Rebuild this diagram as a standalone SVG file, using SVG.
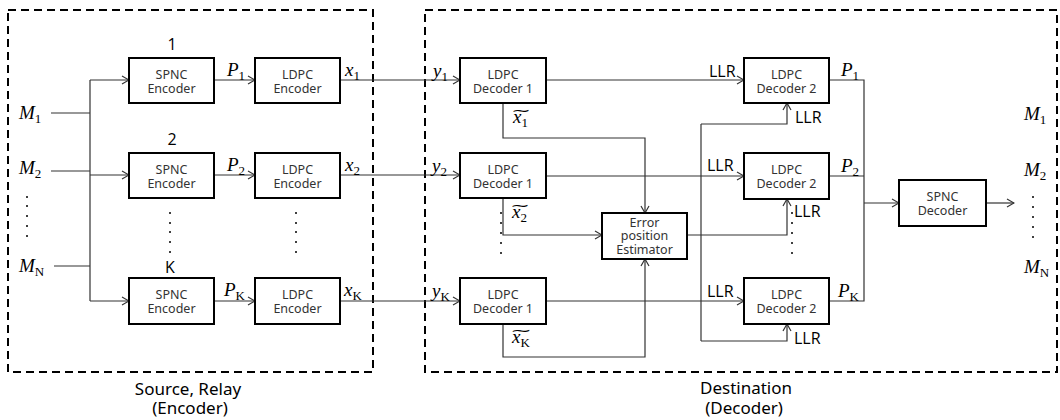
<svg xmlns="http://www.w3.org/2000/svg" width="1060" height="420" viewBox="0 0 1060 420">
<style>
.box{fill:#fff;stroke:#000;stroke-width:2}
.frame{fill:none;stroke:#000;stroke-width:2;stroke-dasharray:8 5}
.bt{font-family:"Noto Sans","Open Sans",sans-serif;font-size:12.5px;fill:#333;text-anchor:middle}
.lb{font-family:"Open Sans","Noto Sans",sans-serif;font-size:16px;fill:#000}
.cap{font-family:"Noto Sans","Open Sans",sans-serif;font-size:17px;fill:#000;text-anchor:middle}
.m{font-family:"Liberation Serif","DejaVu Serif",serif;font-size:19px;font-style:italic;fill:#000}
.sub{font-size:13px;font-style:normal}
.tl{font-family:"DejaVu Sans",sans-serif;font-size:13px;font-style:normal}
.c{fill:none;stroke:#333;stroke-width:1.2}
.a{marker-end:url(#ah)}
.dot{fill:#000}
</style>
<defs>
<marker id="ah" markerWidth="9" markerHeight="10" refX="8" refY="5" orient="auto" markerUnits="userSpaceOnUse">
<path d="M1,1 L8,5 L1,9" fill="none" stroke="#333" stroke-width="1.2"/>
</marker>
</defs>

<g id="frames">
<rect class="frame" x="8" y="10" width="365" height="362"/>
<rect class="frame" x="425" y="10" width="632" height="362"/>
<text class="cap" x="188" y="395">Source, Relay</text>
<text class="cap" x="190" y="414">(Encoder)</text>
<text class="cap" x="746" y="394">Destination</text>
<text class="cap" x="744" y="414">(Decoder)</text>
</g>

<g id="connectors">
<path class="c" d="M51,113 H90 M51,171 H90 M54,266 H90 M90,80 V301"/>
<path class="c a" d="M90,80 H129"/>
<path class="c a" d="M90,175 H129"/>
<path class="c a" d="M90,301 H129"/>
<path class="c a" d="M214,80 H255"/>
<path class="c a" d="M214,175 H255"/>
<path class="c a" d="M214,301 H255"/>
<path class="c a" d="M340,80 H460"/>
<path class="c a" d="M340,175 H460"/>
<path class="c a" d="M340,301 H460"/>
<path class="c a" d="M546,80 H744"/>
<path class="c a" d="M546,176 H744"/>
<path class="c a" d="M546,301 H744"/>
<path class="c a" d="M503,103 V138 H645 V213"/>
<path class="c a" d="M503,198 V235 H602"/>
<path class="c a" d="M503,324 V357 H645 V259"/>
<path class="c a" d="M687,235 H787 V199"/>
<path class="c" d="M701,124 V341"/>
<path class="c a" d="M701,124 H787 V103"/>
<path class="c a" d="M701,341 H787 V324"/>
<path class="c" d="M829,80 H864 V301 H829 M829,176 H864"/>
<path class="c a" d="M864,203 H899"/>
<path class="c a" d="M986,203 H1014"/>
</g>

<g id="spnc-enc-1"><rect class="box" x="129" y="58" width="85" height="45"/><text class="bt" x="171.5" y="79">SPNC</text><text class="bt" x="171.5" y="93">Encoder</text></g>
<g id="spnc-enc-2"><rect class="box" x="129" y="153" width="85" height="45"/><text class="bt" x="171.5" y="174">SPNC</text><text class="bt" x="171.5" y="188">Encoder</text></g>
<g id="spnc-enc-k"><rect class="box" x="129" y="278" width="85" height="46"/><text class="bt" x="171.5" y="299">SPNC</text><text class="bt" x="171.5" y="313">Encoder</text></g>

<g id="ldpc-enc-1"><rect class="box" x="255" y="58" width="85" height="45"/><text class="bt" x="297.5" y="79">LDPC</text><text class="bt" x="297.5" y="93">Encoder</text></g>
<g id="ldpc-enc-2"><rect class="box" x="255" y="153" width="85" height="45"/><text class="bt" x="297.5" y="174">LDPC</text><text class="bt" x="297.5" y="188">Encoder</text></g>
<g id="ldpc-enc-k"><rect class="box" x="255" y="278" width="85" height="46"/><text class="bt" x="297.5" y="299">LDPC</text><text class="bt" x="297.5" y="313">Encoder</text></g>

<g id="ldpc-dec1-1"><rect class="box" x="460" y="58" width="86" height="45"/><text class="bt" x="503" y="79">LDPC</text><text class="bt" x="503" y="93">Decoder 1</text></g>
<g id="ldpc-dec1-2"><rect class="box" x="460" y="153" width="86" height="45"/><text class="bt" x="503" y="174">LDPC</text><text class="bt" x="503" y="188">Decoder 1</text></g>
<g id="ldpc-dec1-k"><rect class="box" x="460" y="278" width="86" height="46"/><text class="bt" x="503" y="299">LDPC</text><text class="bt" x="503" y="313">Decoder 1</text></g>

<g id="estimator"><rect class="box" x="602" y="213" width="85" height="46"/><text class="bt" x="644.5" y="227">Error</text><text class="bt" x="644.5" y="240">position</text><text class="bt" x="644.5" y="254">Estimator</text></g>

<g id="ldpc-dec2-1"><rect class="box" x="744" y="58" width="85" height="45"/><text class="bt" x="786.5" y="79">LDPC</text><text class="bt" x="786.5" y="93">Decoder 2</text></g>
<g id="ldpc-dec2-2"><rect class="box" x="744" y="153" width="85" height="46"/><text class="bt" x="786.5" y="174">LDPC</text><text class="bt" x="786.5" y="188">Decoder 2</text></g>
<g id="ldpc-dec2-k"><rect class="box" x="744" y="278" width="85" height="46"/><text class="bt" x="786.5" y="299">LDPC</text><text class="bt" x="786.5" y="313">Decoder 2</text></g>

<g id="spnc-dec"><rect class="box" x="899" y="180" width="87" height="46"/><text class="bt" x="942.5" y="201">SPNC</text><text class="bt" x="942.5" y="215">Decoder</text></g>

<g id="labels">
<text class="lb" x="172" y="50" text-anchor="middle">1</text>
<text class="lb" x="172" y="145" text-anchor="middle">2</text>
<text class="lb" x="170" y="273" text-anchor="middle">K</text>

<text class="m" x="19" y="119">M<tspan class="sub" dy="4">1</tspan></text>
<text class="m" x="19" y="174">M<tspan class="sub" dy="4">2</tspan></text>
<text class="m" x="19" y="272">M<tspan class="sub" dy="4">N</tspan></text>

<text class="m" x="227" y="76">P<tspan class="sub" dy="4">1</tspan></text>
<text class="m" x="227" y="171">P<tspan class="sub" dy="4">2</tspan></text>
<text class="m" x="224" y="296">P<tspan class="sub" dy="4">K</tspan></text>

<text class="m" x="345" y="76">x<tspan class="sub" dy="4">1</tspan></text>
<text class="m" x="345" y="171">x<tspan class="sub" dy="4">2</tspan></text>
<text class="m" x="344" y="296">x<tspan class="sub" dy="4">K</tspan></text>

<text class="m" x="433" y="77">y<tspan class="sub" dy="4">1</tspan></text>
<text class="m" x="432" y="172">y<tspan class="sub" dy="4">2</tspan></text>
<text class="m" x="432" y="297">y<tspan class="sub" dy="4">K</tspan></text>

<text class="m" x="513" y="123">x<tspan class="sub" dy="4">1</tspan><tspan class="tl" x="511" y="115" textLength="20" lengthAdjust="spacingAndGlyphs">∼</tspan></text>
<text class="m" x="512" y="218">x<tspan class="sub" dy="4">2</tspan><tspan class="tl" x="510" y="210" textLength="20" lengthAdjust="spacingAndGlyphs">∼</tspan></text>
<text class="m" x="512" y="343">x<tspan class="sub" dy="4">K</tspan><tspan class="tl" x="510" y="335" textLength="22" lengthAdjust="spacingAndGlyphs">∼</tspan></text>

<text class="lb" x="709" y="77">LLR</text>
<text class="lb" x="707" y="171">LLR</text>
<text class="lb" x="707" y="297">LLR</text>
<text class="lb" x="795" y="123">LLR</text>
<text class="lb" x="794" y="217">LLR</text>
<text class="lb" x="794" y="344">LLR</text>

<text class="m" x="841" y="76">P<tspan class="sub" dy="4">1</tspan></text>
<text class="m" x="841" y="172">P<tspan class="sub" dy="4">2</tspan></text>
<text class="m" x="838" y="297">P<tspan class="sub" dy="4">K</tspan></text>

<text class="m" x="1024" y="120">M<tspan class="sub" dy="4">1</tspan></text>
<text class="m" x="1024" y="176">M<tspan class="sub" dy="4">2</tspan></text>
<text class="m" x="1024" y="273">M<tspan class="sub" dy="4">N</tspan></text>
</g>

<g id="dots">
<circle class="dot" cx="27" cy="197" r="1"/><circle class="dot" cx="27" cy="206" r="1"/><circle class="dot" cx="27" cy="216" r="1"/><circle class="dot" cx="27" cy="226" r="1"/><circle class="dot" cx="27" cy="236" r="1"/>
<circle class="dot" cx="170" cy="213" r="1"/><circle class="dot" cx="170" cy="223" r="1"/><circle class="dot" cx="170" cy="232" r="1"/><circle class="dot" cx="170" cy="242" r="1"/><circle class="dot" cx="170" cy="252" r="1"/>
<circle class="dot" cx="296" cy="213" r="1"/><circle class="dot" cx="296" cy="223" r="1"/><circle class="dot" cx="296" cy="232" r="1"/><circle class="dot" cx="296" cy="242" r="1"/><circle class="dot" cx="296" cy="252" r="1"/>
<circle class="dot" cx="501" cy="213" r="1"/><circle class="dot" cx="501" cy="223" r="1"/><circle class="dot" cx="501" cy="233" r="1"/><circle class="dot" cx="501" cy="243" r="1"/><circle class="dot" cx="501" cy="253" r="1"/>
<circle class="dot" cx="792" cy="213" r="1"/><circle class="dot" cx="792" cy="223" r="1"/><circle class="dot" cx="792" cy="233" r="1"/><circle class="dot" cx="792" cy="243" r="1"/><circle class="dot" cx="792" cy="253" r="1"/>
<circle class="dot" cx="1033" cy="197" r="1"/><circle class="dot" cx="1033" cy="207" r="1"/><circle class="dot" cx="1033" cy="217" r="1"/><circle class="dot" cx="1033" cy="227" r="1"/><circle class="dot" cx="1033" cy="237" r="1"/>
</g>
</svg>
